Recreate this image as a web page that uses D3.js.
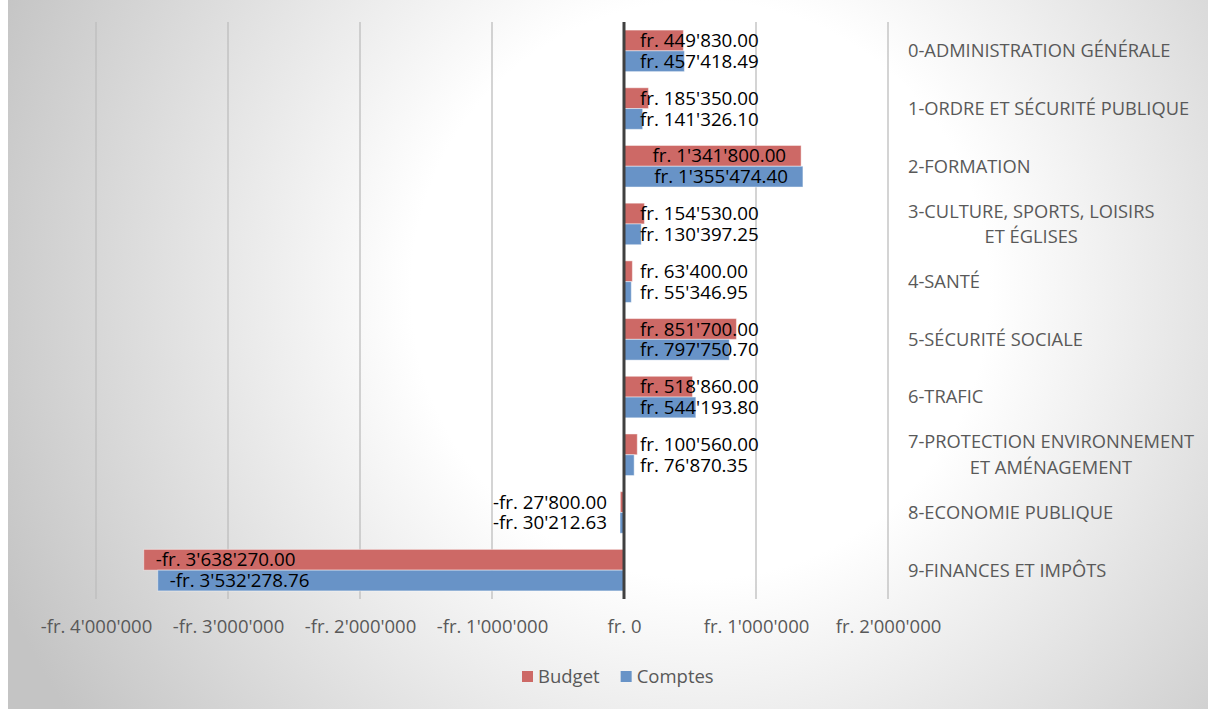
<!DOCTYPE html>
<html>
<head>
<meta charset="utf-8">
<script src="https://cdn.jsdelivr.net/npm/d3@7"></script>
<style>
  body { margin: 0; background: #fff; }
  text { font-family: "Open Sans", sans-serif; }
</style>
</head>
<body>
<svg id="chart" width="1208" height="709"></svg>
<script>
//dimensions of the svg
var width = 1208, height = 709;

//categories (top to bottom)
var categories = [
  '0-ADMINISTRATION GÉNÉRALE',
  '1-ORDRE ET SÉCURITÉ PUBLIQUE',
  '2-FORMATION',
  '3-CULTURE, SPORTS, LOISIRS|ET ÉGLISES',
  '4-SANTÉ',
  '5-SÉCURITÉ SOCIALE',
  '6-TRAFIC',
  '7-PROTECTION ENVIRONNEMENT|ET AMÉNAGEMENT',
  '8-ECONOMIE PUBLIQUE',
  '9-FINANCES ET IMPÔTS'
];

var series = ['Budget', 'Comptes'];

var budget = [449830.00, 185350.00, 1341800.00, 154530.00, 63400.00,
              851700.00, 518860.00, 100560.00, -27800.00, -3638270.00];
var comptes = [457418.49, 141326.10, 1355474.40, 130397.25, 55346.95,
               797750.70, 544193.80, 76870.35, -30212.63, -3532278.76];

var tickValues = [-4000000, -3000000, -2000000, -1000000, 0, 1000000, 2000000];

var colors = {Budget: '#cd6966', Comptes: '#6893c7'};

//swiss franc formatting
var locale = d3.formatLocale({
  decimal: '.', thousands: "'", grouping: [3],
  currency: ['fr. ', ''], minus: '-'
});
var fmtLabel = locale.format('$,.2f');
var fmtTick = locale.format('$,.0f');

var rows = categories.map(function(c, i) {
  return {cat: c, values: [
    {key: 'Budget', value: budget[i]},
    {key: 'Comptes', value: comptes[i]}
  ]};
});

var svg = d3.select('#chart');

//background gradient
var defs = svg.append('defs');
var grad = defs.append('radialGradient')
  .attr('id', 'bg')
  .attr('gradientUnits', 'userSpaceOnUse')
  .attr('cx', 700).attr('cy', 290).attr('r', 760);
grad.append('stop').attr('offset', '0').attr('stop-color', '#ffffff');
grad.append('stop').attr('offset', '0.38').attr('stop-color', '#ffffff');
grad.append('stop').attr('offset', '1').attr('stop-color', '#c4c4c4');

svg.append('rect')
  .attr('x', 8).attr('y', 0)
  .attr('width', width - 8).attr('height', height)
  .attr('fill', 'url(#bg)');

var x = d3.scaleLinear().domain([-4000000, 2000000]).range([96, 888]);
var y = d3.scaleBand().domain(categories).range([22, 599])
  .paddingInner(0.28).paddingOuter(0.14);
var ySub = d3.scaleBand().domain(series).range([0, y.bandwidth()]);

//gridlines
svg.append('g')
  .selectAll('line')
  .data(tickValues.filter(function(d) { return d !== 0; }))
  .enter().append('line')
  .attr('x1', function(d) { return x(d); })
  .attr('x2', function(d) { return x(d); })
  .attr('y1', 22).attr('y2', 599)
  .attr('stroke', '#bdbdbd')
  .attr('stroke-width', 1.3);

//x axis labels
var xAxis = d3.axisBottom(x)
  .tickValues(tickValues)
  .tickFormat(fmtTick)
  .tickSize(0)
  .tickPadding(0);
var gx = svg.append('g')
  .attr('transform', 'translate(0,613)')
  .call(xAxis);
gx.select('.domain').remove();
gx.selectAll('text')
  .attr('dy', 0).attr('y', 20)
  .attr('fill', '#595959')
  .style('font-size', '18.5px')
  .style('font-family', '"Open Sans", sans-serif');

//bars
var groups = svg.append('g')
  .selectAll('g')
  .data(rows)
  .enter().append('g')
  .attr('transform', function(d) { return 'translate(0,' + y(d.cat) + ')'; });

groups.selectAll('rect')
  .data(function(d) { return d.values; })
  .enter().append('rect')
  .attr('x', function(d) { return x(Math.min(0, d.value)); })
  .attr('y', function(d) { return ySub(d.key); })
  .attr('width', function(d) { return Math.abs(x(d.value) - x(0)); })
  .attr('height', ySub.bandwidth())
  .attr('fill', function(d) { return colors[d.key]; })
  .attr('stroke', 'rgba(255,255,255,0.45)')
  .attr('stroke-width', 1);

//zero axis
svg.append('line')
  .attr('x1', x(0)).attr('x2', x(0))
  .attr('y1', 22).attr('y2', 599)
  .attr('stroke', '#404040')
  .attr('stroke-width', 3);

//value labels: inside end when they fit, else just outside the base
groups.selectAll('text.val')
  .data(function(d) { return d.values; })
  .enter().append('text')
  .attr('class', 'val')
  .attr('y', function(d) { return ySub(d.key) + ySub.bandwidth() / 2; })
  .attr('dy', '0.35em')
  .style('font-size', '18.8px')
  .attr('fill', '#000')
  .text(function(d) { return fmtLabel(d.value); })
  .each(function(d) {
    var w = this.getComputedTextLength();
    var barW = Math.abs(x(d.value) - x(0));
    var sel = d3.select(this);
    if (d.value >= 0) {
      if (barW > w + 30) sel.attr('x', x(d.value) - 15).attr('text-anchor', 'end');
      else sel.attr('x', x(0) + 16).attr('text-anchor', 'start');
    } else {
      if (barW > w + 30) sel.attr('x', x(d.value) + 12).attr('text-anchor', 'start');
      else sel.attr('x', x(0) - 17).attr('text-anchor', 'end');
    }
  });

//category labels on the right
var catLabels = svg.append('g')
  .selectAll('text')
  .data(categories)
  .enter().append('text')
  .attr('fill', '#595959')
  .style('font-size', '18.3px');

catLabels.each(function(c) {
  var lines = c.split('|');
  var t = d3.select(this);
  var cy = y(c) + y.bandwidth() / 2;
  var lh = 25.5;
  var spans = t.selectAll('tspan').data(lines).enter().append('tspan')
    .attr('y', function(d, i) { return cy + (i - (lines.length - 1) / 2) * lh; })
    .attr('dy', '0.35em')
    .text(function(d) { return d; });
  //multi-line labels are centred on their first line
  var w0 = spans.nodes()[0].getComputedTextLength();
  spans.attr('x', 908 + w0 / 2).attr('text-anchor', 'middle');
});

//legend
var legend = svg.append('g').attr('transform', 'translate(0,677)');
var items = legend.selectAll('g')
  .data(series)
  .enter().append('g');
items.append('rect')
  .attr('width', 11).attr('height', 11)
  .attr('y', -6)
  .attr('fill', function(d) { return colors[d]; });
items.append('text')
  .attr('x', 16)
  .attr('dy', '0.35em')
  .attr('fill', '#595959')
  .style('font-size', '18.5px')
  .text(function(d) { return d; });
var xpos = 522;
items.each(function() {
  d3.select(this).attr('transform', 'translate(' + xpos + ',0)');
  xpos += 16 + d3.select(this).select('text').node().getComputedTextLength() + 21;
});
</script>
</body>
</html>
